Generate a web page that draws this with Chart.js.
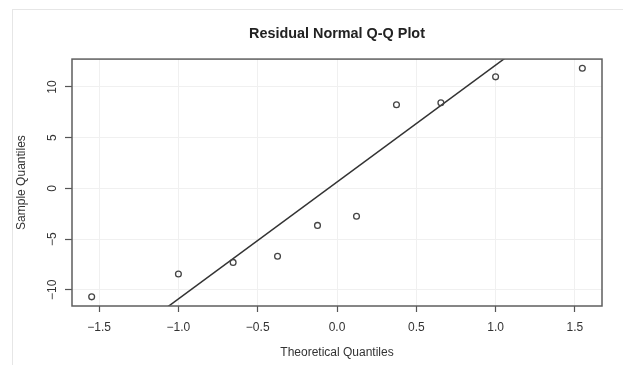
<!DOCTYPE html>
<html>
<head>
<meta charset="utf-8">
<script src="https://cdn.jsdelivr.net/npm/chart.js@4/dist/chart.umd.min.js"></script>
<style>
  html, body { margin: 0; padding: 0; background: #fff; }
  #wrap { position: relative; width: 623px; height: 365px; }
  #frame {
    position: absolute; left: 12px; top: 9px; right: 0; bottom: 0;
    border-top: 1px solid #e6e6e6; border-left: 1px solid #e6e6e6;
  }
  #qq { position: absolute; left: 0; top: 0; }
</style>
</head>
<body>
<div id="wrap">
  <div id="frame"></div>
  <canvas id="qq" width="623" height="365"></canvas>
</div>
<script>
/* --- dados --- */
const theoQuantiles  = [-1.547, -1.000, -0.655, -0.375, -0.123, 0.123, 0.375, 0.655, 1.000, 1.547];
const sampleQuantiles = [-10.7, -8.45, -7.3, -6.7, -3.65, -2.75, 8.25, 8.45, 11.0, 11.85];

const xTicks      = [-1.5, -1.0, -0.5, 0, 0.5, 1.0, 1.5];
const xTickLabels = ['\u22121.5', '\u22121.0', '\u22120.5', '0.0', '0.5', '1.0', '1.5'];
const yTicks      = [-10, -5, 0, 5, 10];
const yTickLabels = ['\u221210', '\u22125', '0', '5', '10'];

const xRange = [-1.671, 1.671];
const yRange = [-11.6, 12.75];

/* --- qqline: reta pelos quartis (como no R) --- */
function quantile7(arr, p) {
  const s = [...arr].sort((a, b) => a - b);
  const h = (s.length - 1) * p;
  const lo = Math.floor(h);
  return s[lo] + (h - lo) * ((s[lo + 1] ?? s[lo]) - s[lo]);
}
const q1 = quantile7(sampleQuantiles, 0.25);
const q3 = quantile7(sampleQuantiles, 0.75);
const z  = 0.6744898;
const slope = (q3 - q1) / (2 * z);
const intercept = q1 + slope * z;
const lineX = [-2, 2];
const lineData = lineX.map(x => ({ x, y: intercept + slope * x }));

const FONT = '"Liberation Sans", Arial, sans-serif';

/* --- moldura da área do gráfico --- */
const boxPlugin = {
  id: 'box',
  afterDatasetsDraw(chart) {
    const { ctx, chartArea: a } = chart;
    ctx.save();
    ctx.strokeStyle = '#5e5e5e';
    ctx.lineWidth = 1.5;
    ctx.strokeRect(a.left, a.top, a.right - a.left, a.bottom - a.top);
    ctx.restore();
  },
};

new Chart(document.getElementById('qq'), {
  type: 'scatter',
  data: {
    datasets: [
      {
        data: theoQuantiles.map((x, i) => ({ x, y: sampleQuantiles[i] })),
        pointStyle: 'circle',
        pointRadius: 2.9,
        pointBorderWidth: 1.3,
        pointBorderColor: '#444',
        pointBackgroundColor: 'rgba(255,255,255,0)',
        showLine: false,
      },
      {
        type: 'line',
        data: lineData,
        borderColor: '#333',
        borderWidth: 1.5,
        pointRadius: 0,
        fill: false,
        clip: 0,
      },
    ],
  },
  options: {
    responsive: false,
    animation: false,
    events: [],
    layout: { padding: { left: 12, right: 21, top: 0, bottom: 0 } },
    plugins: {
      legend: { display: false },
      tooltip: { enabled: false },
      title: {
        display: true,
        text: 'Residual Normal Q-Q Plot',
        fullSize: false,
        color: '#222',
        font: { family: FONT, size: 14.4, weight: 'bold', lineHeight: 1.2 },
        padding: { top: 25, bottom: 16.8 },
      },
    },
    scales: {
      x: {
        type: 'linear',
        min: xRange[0],
        max: xRange[1],
        afterBuildTicks: s => { s.ticks = xTicks.map(v => ({ value: v })); },
        afterFit: s => { s.height = 59; },
        grid: { color: '#f0f0f0', lineWidth: 1, tickColor: '#555', tickLength: 6, tickWidth: 1.2 },
        border: { display: false },
        ticks: {
          color: '#333',
          font: { family: FONT, size: 12 },
          padding: 8,
          maxRotation: 0,
          autoSkip: false,
          callback: (v, i) => xTickLabels[i],
        },
        title: {
          display: true,
          text: 'Theoretical Quantiles',
          color: '#333',
          font: { family: FONT, size: 12, lineHeight: 1.2 },
          padding: { top: 0, bottom: 5 },
        },
      },
      y: {
        type: 'linear',
        min: yRange[0],
        max: yRange[1],
        afterBuildTicks: s => { s.ticks = yTicks.map(v => ({ value: v })); },
        afterFit: s => { s.width = 60; },
        grid: { color: '#f0f0f0', lineWidth: 1, tickColor: '#555', tickLength: 7, tickWidth: 1.2 },
        border: { display: false },
        ticks: {
          color: '#333',
          font: { family: FONT, size: 12 },
          padding: 2,
          minRotation: 90,
          maxRotation: 90,
          crossAlign: 'center',
          autoSkip: false,
          callback: (v, i) => yTickLabels[i],
        },
        title: {
          display: true,
          text: 'Sample Quantiles',
          color: '#333',
          font: { family: FONT, size: 12, lineHeight: 1.2 },
          padding: { top: 2, bottom: 0 },
        },
      },
    },
  },
  plugins: [boxPlugin],
});
</script>
</body>
</html>
